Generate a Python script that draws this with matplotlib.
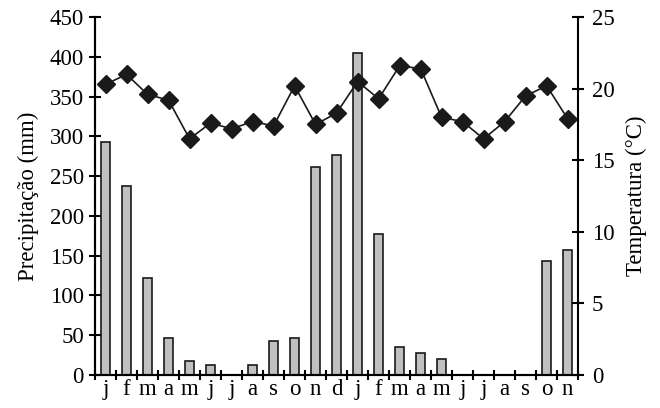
import matplotlib
matplotlib.use("Agg")
import matplotlib.pyplot as plt
import numpy as np

plt.rcParams['font.family'] = ['Liberation Serif', 'DejaVu Serif']

months = ["j", "f", "m", "a", "m", "j", "j", "a", "s", "o", "n", "d",
          "j", "f", "m", "a", "m", "j", "j", "a", "s", "o", "n"]
precip = [293, 238, 122, 46, 17, 13, 0, 13, 43, 46, 262, 277,
          405, 177, 35, 27, 20, 0, 0, 0, 0, 143, 157]
temp = [20.3, 21.0, 19.6, 19.2, 16.5, 17.6, 17.2, 17.7, 17.4, 20.2, 17.5, 18.3,
        20.5, 19.3, 21.6, 21.4, 18.0, 17.7, 16.5, 17.7, 19.5, 20.2, 17.9]

x = np.arange(len(months))
fs = 16.5

fig = plt.figure(figsize=(6.6, 4.08), dpi=100)
ax = fig.add_axes([0.144, 0.081, 0.732, 0.877])
ax.bar(x, precip, width=0.45, color="#c0c0c0", edgecolor="#1a1a1a", linewidth=1.2)
ax.set_xlim(-0.5, len(months) - 0.5)
ax.set_ylim(0, 450)
ax.set_yticks(range(0, 451, 50))
ax.set_ylabel("Precipitação (mm)", fontsize=fs, labelpad=8)

ax.set_xticks(x)
ax.set_xticklabels(months, fontsize=fs)
ax.set_xticks(np.arange(-0.5, len(months), 1), minor=True)
ax.tick_params(axis='x', which='major', length=0, pad=3)
ax.tick_params(axis='x', which='minor', direction='inout', length=7, width=1.5)
ax.tick_params(axis='y', labelsize=fs, direction='inout', length=8, width=1.5, pad=4)

ax2 = ax.twinx()
ax2.plot(x, temp, color="#1a1a1a", linewidth=1.2, marker="D", markersize=9)
ax2.set_ylim(0, 25)
ax2.set_yticks(range(0, 26, 5))
ax2.set_ylabel("Temperatura (°C)", fontsize=fs, labelpad=8)
ax2.tick_params(axis='y', labelsize=fs, direction='inout', length=8, width=1.5, pad=6)

for a in (ax, ax2):
    a.spines['top'].set_visible(False)
    for s in ('left', 'right', 'bottom'):
        a.spines[s].set_linewidth(1.5)
ax.spines['right'].set_visible(False)

fig.savefig("out.png", dpi=100)
